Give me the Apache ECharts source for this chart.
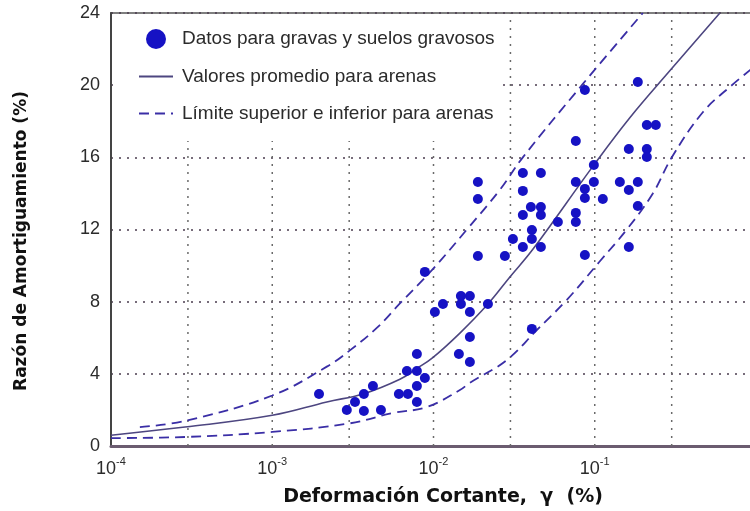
<!DOCTYPE html>
<html>
<head>
<meta charset="utf-8">
<script src="https://cdn.jsdelivr.net/npm/echarts@6/dist/echarts.min.js"></script>
<style>
  html, body { margin: 0; padding: 0; background: #fff; }
  #chart { width: 750px; height: 511px; }
</style>
</head>
<body>
<div id="chart"></div>
<script>
// Gravel and gravelly soil measurements: shear strain (%) and damping ratio (%)
const gravelStrain = [
  0.00195, 0.0029, 0.00326, 0.0037, 0.00421, 0.0037, 0.00472, 0.0061, 0.00694, 0.00789,
  0.00789, 0.00884, 0.00684, 0.00789, 0.00789, 0.01437, 0.0102, 0.01144, 0.01479, 0.01681,
  0.01479, 0.01681, 0.02175, 0.01681, 0.01681, 0.00884, 0.01885, 0.02771, 0.04074, 0.08684,
  0.03108, 0.04074, 0.03582, 0.04633, 0.1627, 0.04074, 0.05905, 0.07632, 0.07632, 0.03582,
  0.04633, 0.04016, 0.04633, 0.185, 0.01885, 0.1122, 0.08684, 0.08684, 0.1627, 0.03582,
  0.01885, 0.07632, 0.09872, 0.1431, 0.185, 0.03582, 0.04633, 0.09872, 0.07632, 0.1627,
  0.2104, 0.2104, 0.2104, 0.2392, 0.08684, 0.185
];
const gravelDamping = [
  2.88, 2.0, 2.44, 2.88, 3.33, 1.94, 2.0, 2.88, 2.88, 3.33,
  2.44, 3.77, 4.16, 4.16, 5.1, 5.1, 7.43, 7.87, 8.31, 8.31,
  7.87, 7.43, 7.87, 6.04, 4.66, 9.65, 10.53, 10.53, 6.49, 10.59,
  11.47, 11.47, 11.03, 11.03, 11.03, 11.97, 12.42, 12.42, 12.92, 12.8,
  12.8, 13.25, 13.25, 13.3, 13.69, 13.69, 13.75, 14.25, 14.19, 14.14,
  14.63, 14.63, 14.63, 14.63, 14.63, 15.13, 15.13, 15.58, 16.91, 16.46,
  16.46, 16.02, 17.79, 17.79, 19.73, 20.18
];

// Average curve for sands
const meanStrain  = [1e-4, 2.88e-4, 1e-3, 0.00218, 0.0037, 0.00619, 0.00789, 0.0099, 0.01458, 0.02175, 0.02977, 0.04132, 0.0973, 0.165, 0.292, 0.597];
const meanDamping = [0.6, 1.05, 1.7, 2.44, 2.9, 3.7, 4.3, 4.9, 6.26, 7.87, 9.37, 10.9, 15.5, 18.2, 20.8, 24.0];

// Upper and lower bounds for sands
const upperStrain  = [1.51e-4, 2.88e-4, 1e-3, 0.00218, 0.00303, 0.00452, 0.00619, 0.0099, 0.01611, 0.0258, 0.03582, 0.0832, 0.1987];
const upperDamping = [1.05, 1.39, 2.8, 4.4, 5.3, 6.6, 7.9, 9.8, 12.0, 14.2, 16.0, 20.0, 24.0];
const lowerStrain  = [1e-4, 2.88e-4, 1e-3, 0.003, 0.0056, 0.0091, 0.01458, 0.01681, 0.02852, 0.04375, 0.06714, 0.1066, 0.1581, 0.2292, 0.3006, 0.468, 0.688, 1.0];
const lowerDamping = [0.44, 0.5, 0.78, 1.25, 1.83, 2.16, 3.1, 3.5, 4.77, 6.43, 8.1, 10.2, 12.0, 14.0, 16.0, 18.5, 19.9, 21.1];

// Axis settings
const xLabelExponents = [-4, -3, -2, -1];
const xGridStrains = [3e-4, 1e-3, 3e-3, 1e-2, 3e-2, 1e-1, 3e-1];
const yMin = 0, yMax = 24, yStep = 4;

const seriesNames = [
  'Datos para gravas y suelos gravosos',
  'Valores promedio para arenas',
  'Límite superior e inferior para arenas'
];
const xTitle = 'Deformación Cortante,  γ  (%)';
const yTitle = 'Razón de Amortiguamiento (%)';

const zip = (xs, ys) => xs.map((x, i) => [x, ys[i]]);

const FONT = '"Liberation Sans", Arial, Helvetica, sans-serif';
const TITLE_FONT = '"DejaVu Sans", Verdana, sans-serif';
const DASH_COLOR = '#3a2ea6';

// dotted vertical reference lines at 1 and 3 of each decade
const gridLineSeries = xGridStrains.map(v => ({
  type: 'line', silent: true, z: 1, symbol: 'none',
  data: [[v, yMin], [v, yMax]],
  lineStyle: { color: '#6a6a6a', width: 1.5, type: [2, 6] }
}));

const chart = echarts.init(document.getElementById('chart'), null, { renderer: 'canvas' });

chart.setOption({
  animation: false,
  backgroundColor: '#ffffff',
  grid: {
    left: 111, width: 645, top: 13, bottom: 65,
    outerBoundsMode: 'none',
    show: true, borderColor: '#555', borderWidth: 1.5
  },
  legend: {
    data: [
      { name: seriesNames[0], icon: 'circle' },
      { name: seriesNames[1], itemStyle: { opacity: 0 } },
      { name: seriesNames[2], itemStyle: { opacity: 0 } }
    ],
    orient: 'vertical',
    left: 113, top: 16, z: 20,
    padding: [13, 8, 18, 25],
    itemWidth: 34, itemHeight: 20, itemGap: 18,
    backgroundColor: '#ffffff',
    textStyle: { fontFamily: FONT, fontSize: 19, color: '#2b2b2b', padding: [0, 0, 0, 4] },
    selectedMode: false
  },
  xAxis: {
    type: 'log', logBase: 10, min: 1e-4, max: 1,
    axisLine: { show: true, lineStyle: { color: '#6b5c70', width: 3 } },
    axisTick: { show: false },
    splitLine: { show: false },
    minorSplitLine: { show: false },
    axisLabel: {
      margin: 10,
      formatter: function (v) {
        const e = Math.round(Math.log10(v));
        return xLabelExponents.indexOf(e) >= 0 ? '{n|10}{sup|' + e + '}' : '';
      },
      rich: {
        n: { fontFamily: FONT, fontSize: 18, color: '#2b2b2b', lineHeight: 22, verticalAlign: 'bottom' },
        sup: { fontFamily: FONT, fontSize: 11, color: '#2b2b2b', lineHeight: 22, verticalAlign: 'top', padding: [0, 0, 10, 0] }
      }
    }
  },
  yAxis: {
    type: 'value', min: yMin, max: yMax, interval: yStep,
    axisLine: { show: true, lineStyle: { color: '#444', width: 2 } },
    axisTick: { show: false },
    axisLabel: { fontFamily: FONT, fontSize: 18, color: '#2b2b2b', margin: 11 },
    splitLine: { show: true, lineStyle: { color: '#4b3d4f', width: 1.5, type: [2, 6] } }
  },
  graphic: [
    {
      type: 'text', x: 443, y: 497,
      style: {
        text: xTitle, font: 'bold 19px ' + TITLE_FONT, fill: '#111',
        textAlign: 'center', textVerticalAlign: 'middle'
      }
    },
    {
      type: 'text', x: 22, y: 241, rotation: Math.PI / 2,
      style: {
        text: yTitle, font: 'bold 17px ' + TITLE_FONT, fill: '#111',
        textAlign: 'center', textVerticalAlign: 'middle'
      }
    }
  ],
  series: gridLineSeries.concat([
    {
      name: seriesNames[2], type: 'line', data: zip(upperStrain, upperDamping),
      symbol: 'none', smooth: 0.4, z: 3,
      lineStyle: { color: DASH_COLOR, width: 1.8, type: [10, 6] },
      itemStyle: { color: DASH_COLOR }
    },
    {
      name: seriesNames[2], type: 'line', data: zip(lowerStrain, lowerDamping),
      symbol: 'none', smooth: 0.4, z: 3,
      lineStyle: { color: DASH_COLOR, width: 1.8, type: [10, 6] },
      itemStyle: { color: DASH_COLOR }
    },
    {
      name: seriesNames[1], type: 'line', data: zip(meanStrain, meanDamping),
      symbol: 'none', smooth: 0.4, z: 3,
      lineStyle: { color: '#4d4680', width: 1.6 },
      itemStyle: { color: '#6a5aa8' }
    },
    {
      name: seriesNames[0], type: 'scatter', data: zip(gravelStrain, gravelDamping),
      symbol: 'circle', symbolSize: 10, z: 5,
      itemStyle: { color: '#1612c4', opacity: 1 }
    }
  ])
});
</script>
</body>
</html>
